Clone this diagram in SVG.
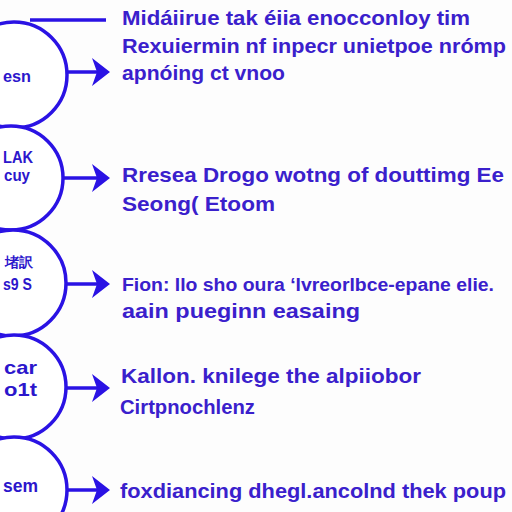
<svg xmlns="http://www.w3.org/2000/svg" width="512" height="512" viewBox="0 0 512 512">
<style>
.node circle{fill:#ffffff;stroke:#2a12e4;stroke-width:3.5}
.clab{font-family:"Liberation Sans",Arial,sans-serif;font-weight:bold;font-size:17px;fill:#2c16cc;text-anchor:end}
.t{font-family:"Liberation Sans",Arial,sans-serif;font-weight:bold;font-size:21px;fill:#3a20cc}
.shaft{stroke:#2a12e4;stroke-width:3.5;fill:none}
.head{fill:#2a12e4}
</style>
<defs>
<path id="ah" d="M-18,-14 L0,0 L-18,14 L-13,0 Z"/>
</defs>
<rect width="512" height="512" fill="#fdfdfd"/>
<g id="node1" class="node">
<circle cx="14" cy="75" r="53"/>
<text class="clab" x="31" y="82" textLength="28" lengthAdjust="spacingAndGlyphs">esn</text>
</g>
<g id="node2" class="node">
<circle cx="11" cy="178" r="52"/>
<text class="clab" x="33" y="163" textLength="30" lengthAdjust="spacingAndGlyphs">LAK</text>
<text class="clab" x="30" y="181" textLength="26" lengthAdjust="spacingAndGlyphs">cuy</text>
</g>
<g id="node3" class="node">
<circle cx="13" cy="283" r="53"/>
<text class="clab" x="33" y="267" style="font-size:14px">堵訳</text>
<text class="clab" x="32" y="290" textLength="29" lengthAdjust="spacingAndGlyphs">s9 S</text>
</g>
<g id="node4" class="node">
<circle cx="14" cy="387" r="52"/>
<text class="clab" x="37" y="374" style="font-size:19px" textLength="33" lengthAdjust="spacingAndGlyphs">car</text>
<text class="clab" x="37" y="396" style="font-size:19px" textLength="33" lengthAdjust="spacingAndGlyphs">o1t</text>
</g>
<g id="node5" class="node">
<circle cx="14" cy="490" r="53"/>
<text class="clab" x="38" y="492" style="font-size:18px" textLength="35" lengthAdjust="spacingAndGlyphs">sem</text>
</g>
<g id="connectors">
<line class="shaft" x1="30" y1="20" x2="106" y2="20"/>
<line class="shaft" x1="67" y1="72" x2="97" y2="72"/>
<use href="#ah" class="head" x="110" y="72"/>
<line class="shaft" x1="63" y1="178" x2="97" y2="178"/>
<use href="#ah" class="head" x="110" y="178"/>
<line class="shaft" x1="66" y1="284" x2="97" y2="284"/>
<use href="#ah" class="head" x="110" y="284"/>
<line class="shaft" x1="66" y1="388" x2="97" y2="388"/>
<use href="#ah" class="head" x="110" y="388"/>
<line class="shaft" x1="67" y1="490" x2="97" y2="490"/>
<use href="#ah" class="head" x="110" y="490"/>
</g>
<g id="labels">
<text class="t" x="122" y="25" textLength="348" lengthAdjust="spacingAndGlyphs">Midáiirue tak éiia enocconloy tim</text>
<text class="t" x="122" y="53" textLength="384" lengthAdjust="spacingAndGlyphs">Rexuiermin nf inpecr unietpoe nrómp</text>
<text class="t" x="122" y="80" textLength="163" lengthAdjust="spacingAndGlyphs">apnóing ct vnoo</text>
<text class="t" x="122" y="182" textLength="382" lengthAdjust="spacingAndGlyphs">Rresea  Drogo wotng of douttimg Ee</text>
<text class="t" x="122" y="211" textLength="153" lengthAdjust="spacingAndGlyphs">Seong(  Etoom</text>
<text class="t" x="122" y="291" style="font-size:18px" textLength="372" lengthAdjust="spacingAndGlyphs">Fion: llo sho oura ‘lvreorlbce-epane elie.</text>
<text class="t" x="122" y="318" textLength="238" lengthAdjust="spacingAndGlyphs">aain  pueginn  easaing</text>
<text class="t" x="121" y="383" textLength="300" lengthAdjust="spacingAndGlyphs">Kallon.  knilege  the  alpiiobor</text>
<text class="t" x="120" y="414" textLength="135" lengthAdjust="spacingAndGlyphs">Cirtpnochlenz</text>
<text class="t" x="120" y="498" textLength="386" lengthAdjust="spacingAndGlyphs">foxdiancing  dhegl.ancolnd  thek  poup</text>
</g>
</svg>
